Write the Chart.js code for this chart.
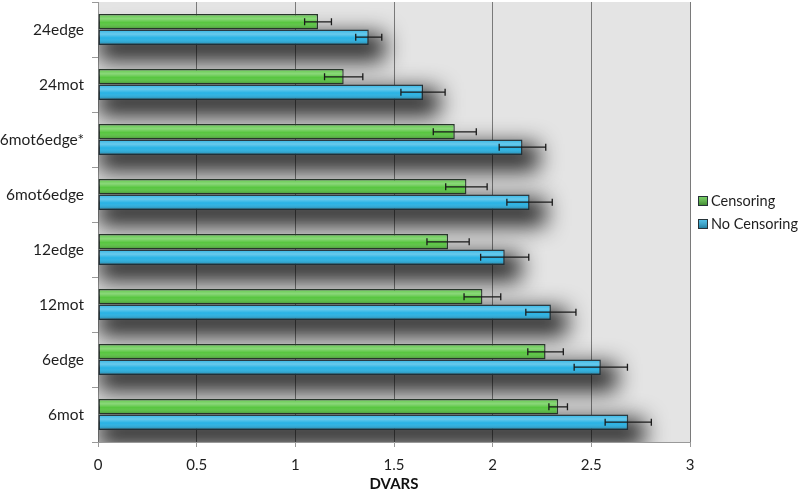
<!DOCTYPE html>
<html lang="en">
<head>
  <meta charset="UTF-8">
  <title>DVARS by censoring</title>
  <script src="https://cdn.jsdelivr.net/npm/chart.js"></script>
  <style>
    body { margin: 0; padding: 0; background: #fff; }
    #wrap { width: 800px; height: 497px; position: relative; }
  </style>
</head>
<body>
  <div id="wrap"><canvas id="dvarsChart"></canvas></div>

  <script>
    // Daten (von oben nach unten)
    const categories = ['24edge', '24mot', '6mot6edge*', '6mot6edge', '12edge', '12mot', '6edge', '6mot'];
    const censoring   = [1.115, 1.245, 1.808, 1.867, 1.774, 1.948, 2.268, 2.332];
    const censorErr   = [0.068, 0.097, 0.109, 0.105, 0.107, 0.093, 0.090, 0.047];
    const noCensoring = [1.372, 1.647, 2.151, 2.187, 2.061, 2.295, 2.548, 2.687];
    const noCensorErr = [0.066, 0.112, 0.118, 0.115, 0.122, 0.127, 0.135, 0.117];
    const xTicks = [0, 0.5, 1, 1.5, 2, 2.5, 3];

    const FONT = 'Lato, "Open Sans", sans-serif';
    const seriesColors = ['#58c640', '#27b2e4'];
    const errors = [censorErr, noCensorErr];

    // Hintergrund der Plotfläche
    const bgPlugin = {
      id: 'plotBg',
      beforeDraw(chart) {
        const { ctx, chartArea: a } = chart;
        ctx.save();
        ctx.fillStyle = '#e4e4e4';
        ctx.fillRect(a.left, a.top, a.right - a.left, a.bottom - a.top);
        ctx.restore();
      }
    };

    // Weicher Schatten unter jedem Balkenpaar, Glanz und Fehlerbalken
    const shadowPlugin = {
      id: 'barShadow',
      beforeDatasetsDraw(chart) {
        const { ctx, chartArea: a } = chart;
        const m0 = chart.getDatasetMeta(0), m1 = chart.getDatasetMeta(1);
        ctx.save();
        ctx.beginPath();
        ctx.rect(a.left, a.top, a.right - a.left, a.bottom - a.top);
        ctx.clip();
        const off = 10000;
        ctx.shadowColor = 'rgba(0,0,0,0.85)';
        ctx.shadowBlur = 22;
        ctx.shadowOffsetX = off;
        ctx.shadowOffsetY = 14;
        ctx.fillStyle = '#000';
        m0.data.forEach((g, i) => {
          const b = m1.data[i];
          const top = g.y - g.height / 2 + 6;
          const bottom = b.y + b.height / 2 + 2;
          const right = Math.max(g.x, b.x) + 16;
          ctx.fillRect(a.left - off, top, right - a.left, bottom - top);
        });
        ctx.restore();
      },
      afterDatasetsDraw(chart) {
        const { ctx } = chart;
        ctx.save();
        [0, 1].forEach(d => {
          const meta = chart.getDatasetMeta(d);
          meta.data.forEach((el, i) => {
            const top = el.y - el.height / 2, bot = el.y + el.height / 2;
            // Glanzeffekt
            const gr = ctx.createLinearGradient(0, top, 0, bot);
            gr.addColorStop(0, 'rgba(255,255,255,0.05)');
            gr.addColorStop(0.3, 'rgba(255,255,255,0.3)');
            gr.addColorStop(0.55, 'rgba(255,255,255,0.0)');
            gr.addColorStop(1, 'rgba(0,0,0,0.3)');
            ctx.fillStyle = gr;
            ctx.fillRect(el.base + 1, top + 1, el.x - el.base - 2, el.height - 2);
            // Fehlerbalken
            const xs = chart.scales.x;
            const v = chart.data.datasets[d].data[i];
            const e = errors[d][i];
            const x1 = xs.getPixelForValue(v - e), x2 = xs.getPixelForValue(v + e);
            ctx.strokeStyle = '#1a1a1a';
            ctx.lineWidth = 1.3;
            ctx.beginPath();
            ctx.moveTo(x1, el.y); ctx.lineTo(x2, el.y);
            ctx.moveTo(x1, el.y - 3.5); ctx.lineTo(x1, el.y + 3.5);
            ctx.moveTo(x2, el.y - 3.5); ctx.lineTo(x2, el.y + 3.5);
            ctx.stroke();
          });
        });
        ctx.restore();
      }
    };

    // Legende rechts
    const legendPlugin = {
      id: 'sideLegend',
      afterDraw(chart) {
        const { ctx } = chart;
        const items = [['Censoring', seriesColors[0], 201], ['No Censoring', seriesColors[1], 224]];
        ctx.save();
        ctx.font = '14.5px ' + FONT;
        ctx.textBaseline = 'middle';
        items.forEach(([txt, col, y]) => {
          const gr = ctx.createLinearGradient(0, y - 5, 0, y + 5);
          gr.addColorStop(0, 'rgba(255,255,255,0.2)');
          gr.addColorStop(1, 'rgba(0,0,0,0.35)');
          ctx.fillStyle = col;
          ctx.fillRect(698, y - 5, 10, 10);
          ctx.fillStyle = gr;
          ctx.fillRect(698, y - 5, 10, 10);
          ctx.strokeStyle = '#263238';
          ctx.lineWidth = 1;
          ctx.strokeRect(698.5, y - 4.5, 9, 9);
          ctx.fillStyle = '#1e1e1e';
          ctx.fillText(txt, 711, y);
        });
        ctx.restore();
      }
    };

    const ctx = document.getElementById('dvarsChart').getContext('2d');
    const chart = new Chart(ctx, {
      type: 'bar',
      data: {
        labels: categories,
        datasets: [
          {
            label: 'Censoring',
            data: censoring,
            backgroundColor: seriesColors[0],
            borderColor: '#27352a',
            borderWidth: 1.5,
            borderSkipped: false,
            categoryPercentage: 0.56,
            barPercentage: 1.0
          },
          {
            label: 'No Censoring',
            data: noCensoring,
            backgroundColor: seriesColors[1],
            borderColor: '#1f3038',
            borderWidth: 1.5,
            borderSkipped: false,
            categoryPercentage: 0.56,
            barPercentage: 1.0
          }
        ]
      },
      options: {
        indexAxis: 'y',
        responsive: true,
        maintainAspectRatio: false,
        animation: false,
        layout: { padding: { top: 2, right: 110, left: 0, bottom: 0 } },
        scales: {
          x: {
            min: 0,
            max: 3,
            afterBuildTicks: s => { s.ticks = xTicks.map(v => ({ value: v })); },
            afterFit: s => { s.height = 55; s.paddingLeft = 0; s.paddingRight = 0; },
            grid: { color: '#7a7a7a', tickLength: 5, tickColor: '#999' },
            border: { color: '#999' },
            ticks: {
              color: '#1e1e1e', font: { family: FONT, size: 15 }, padding: 9,
              callback: v => String(v)
            },
            title: {
              display: true, text: 'DVARS', color: '#111',
              font: { family: FONT, size: 15, weight: 'bold' }, padding: { top: 6 }
            }
          },
          y: {
            afterFit: s => { s.width = 98; s.paddingTop = 0; s.paddingBottom = 0; },
            grid: { drawOnChartArea: false, tickLength: 6, color: '#999', offset: true },
            border: { color: '#999' },
            ticks: { color: '#1e1e1e', font: { family: FONT, size: 15.5 }, padding: 8 }
          }
        },
        plugins: {
          legend: { display: false },
          tooltip: { enabled: false }
        }
      },
      plugins: [bgPlugin, shadowPlugin, legendPlugin]
    });
  </script>
</body>
</html>
